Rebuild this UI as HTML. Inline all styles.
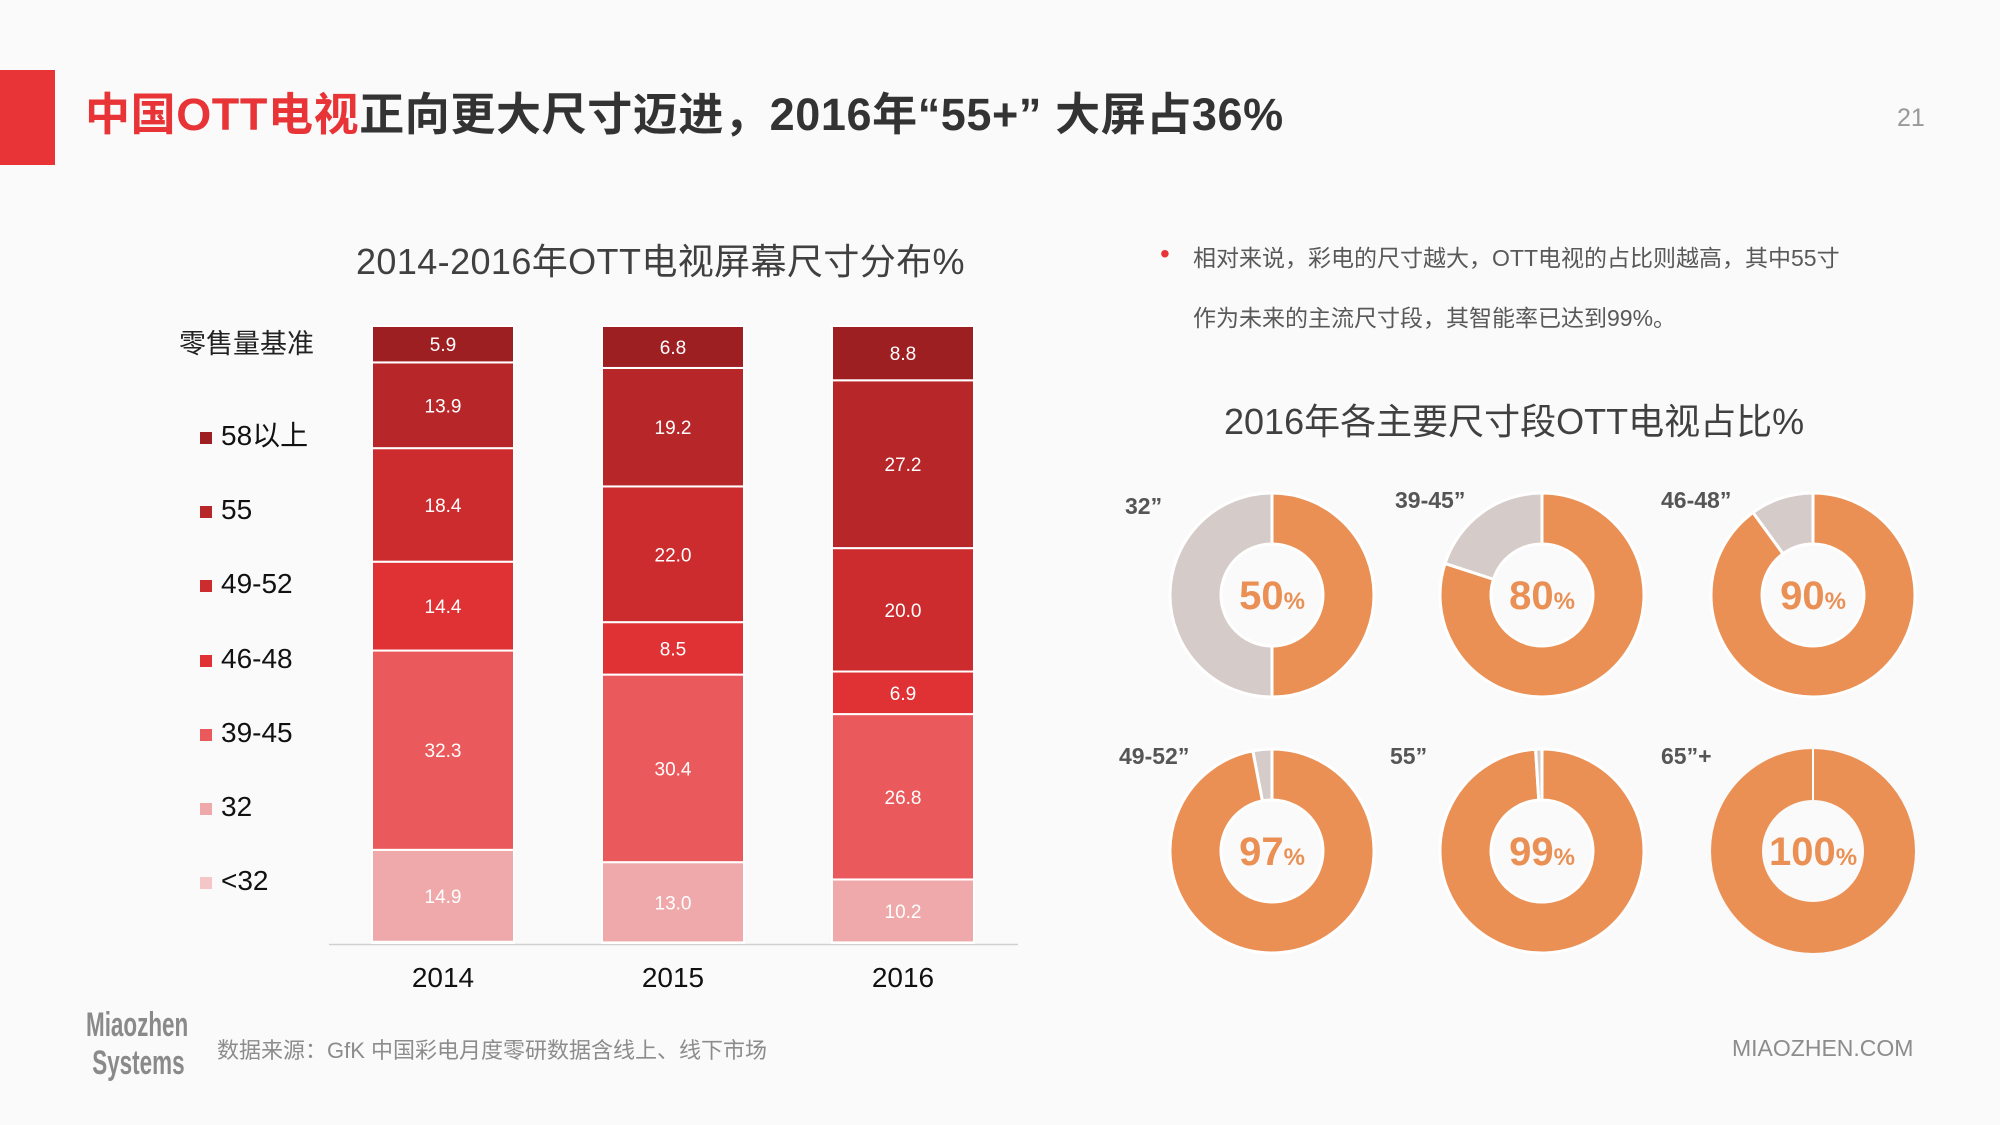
<!DOCTYPE html>
<html><head><meta charset="utf-8">
<style>
html,body{margin:0;padding:0;background:#fafafa;}
#root{position:relative;width:2000px;height:1125px;overflow:hidden;background:#fafafa;font-family:"Liberation Sans","Noto Sans CJK SC",sans-serif;}
.abs{position:absolute;white-space:nowrap;}
</style></head>
<body>
<div id="root">
<div class="abs" style="left:0;top:70px;width:55px;height:95px;background:#e83436;"></div>
<div class="abs" style="left:85px;top:78px;font-size:45px;font-weight:bold;color:#333;letter-spacing:0.6px;"><span style="color:#e83436">中国OTT电视</span>正向更大尺寸迈进，2016年“55+” 大屏占36%</div>
<div class="abs" style="left:1897px;top:104px;font-size:25px;color:#999;">21</div>

<div class="abs" style="left:356px;top:233px;font-size:36px;color:#404040;letter-spacing:0.4px;">2014-2016年OTT电视屏幕尺寸分布%</div>
<div class="abs" style="left:179px;top:322px;font-size:27px;color:#222;">零售量基准</div>

<svg id="bars" class="abs" style="left:0;top:0" width="2000" height="1125"></svg>

<div class="abs" style="left:1160px;top:238px;font-size:28px;color:#e83436;">•</div>
<div class="abs" style="left:1193px;top:228px;font-size:23px;color:#595959;line-height:60px;white-space:normal;width:760px;">相对来说，彩电的尺寸越大，OTT电视的占比则越高，其中55寸<br>作为未来的主流尺寸段，其智能率已达到99%。</div>

<div class="abs" style="left:1224px;top:393px;font-size:36px;color:#404040;">2016年各主要尺寸段OTT电视占比%</div>
<svg id="donuts" class="abs" style="left:0;top:0" width="2000" height="1125"></svg>

<div class="abs" style="left:86px;top:1006px;font-size:34px;line-height:38px;color:#8a8a8a;font-family:'Liberation Sans Narrow','Liberation Sans',sans-serif;transform:scaleX(0.66);transform-origin:left top;font-weight:bold;">Miaozhen<br>&nbsp;Systems</div>
<div class="abs" style="left:217px;top:1033px;font-size:22px;color:#8c8c8c;">数据来源：GfK 中国彩电月度零研数据含线上、线下市场</div>
<div class="abs" style="left:1732px;top:1035px;font-size:23px;color:#8c8c8c;">MIAOZHEN.COM</div>
</div>
<script>
const years = ['2014','2015','2016'];
const seriesNames = ['<32','32','39-45','46-48','49-52','55','58以上'];
const s_lt32 = [0.2, 0.1, 0.1];
const s_32 = [14.9, 13.0, 10.2];
const s_39_45 = [32.3, 30.4, 26.8];
const s_46_48 = [14.4, 8.5, 6.9];
const s_49_52 = [18.4, 22.0, 20.0];
const s_55 = [13.9, 19.2, 27.2];
const s_58 = [5.9, 6.8, 8.8];
const donutLabels = ['32”','39-45”','46-48”','49-52”','55”','65”+'];
const donutValues = [50, 80, 90, 97, 99, 100];

const NS='http://www.w3.org/2000/svg';
function mk(parent,tag,attrs){const e=document.createElementNS(NS,tag);for(const k in attrs)e.setAttribute(k,attrs[k]);parent.appendChild(e);return e;}
const colors=['#f4c6c7','#f0a9aa','#ea5a5c','#e03235','#cc2c2e','#b7272a','#9e1f22'];
const series=[s_lt32,s_32,s_39_45,s_46_48,s_49_52,s_55,s_58];
const svg=document.getElementById('bars');
const baseY=943, plotH=617;
function yScale(v){return baseY - v/100*plotH;}
function xScale(i){return 372 + i*230;}
const barW=142;
const axis=mk(svg,'line',{x1:329,x2:1018,y1:944.5,y2:944.5,stroke:'#d0d0d0','stroke-width':1.5});


years.forEach((yr,i)=>{
  let cum=0;
  series.forEach((s,k)=>{
    const v=s[i];const y0=yScale(cum), y1=yScale(cum+v);
    const r=mk(svg,'rect',{x:xScale(i),y:y1,width:barW,height:Math.max(0,y0-y1),fill:colors[k],stroke:'#fff','stroke-width':2});
    
    
    if(v>=3){
      const t=mk(svg,'text',{x:xScale(i)+barW/2,y:(y0+y1)/2+7,'text-anchor':'middle','font-size':19,fill:'#fff','font-family':'Liberation Sans'});
      t.textContent=v.toFixed(1);
      
      
    }
    cum+=v;
  });
  const t=mk(svg,'text',{x:xScale(i)+barW/2,y:987,'text-anchor':'middle','font-size':28,fill:'#111','font-family':'Liberation Sans'});
  t.textContent=yr;
  
  
});
// legend
const legY=[444,518,592,667,741,815,889];
for(let j=0;j<7;j++){
  const k=6-j;
  const r=mk(svg,'rect',{x:200,y:legY[j]-12,width:12,height:12,fill:colors[k]});
  
  
  const t=mk(svg,'text',{x:221,y:legY[j]+1,'font-size':28,fill:'#111','font-family':'Liberation Sans, Noto Sans CJK SC'});
  t.textContent=seriesNames[k];
  
  
}
// donuts
const dsvg=document.getElementById('donuts');
const cx=[1272,1542,1813], cy=[595,851], R=102, r0=51;
const labPos=[[1125,514],[1395,508],[1661,508],[1119,764],[1390,764],[1661,764]];
function pt(a,rad,x,y){return [x+rad*Math.sin(a), y-rad*Math.cos(a)];}
function arc(x,y,a0,a1){
  const large=(a1-a0)>Math.PI?1:0;
  const p1=pt(a0,R,x,y),p2=pt(a1,R,x,y),p3=pt(a1,r0,x,y),p4=pt(a0,r0,x,y);
  return `M${p1[0]},${p1[1]} A${R},${R} 0 ${large} 1 ${p2[0]},${p2[1]} L${p3[0]},${p3[1]} A${r0},${r0} 0 ${large} 0 ${p4[0]},${p4[1]} Z`;
}
donutValues.forEach((v,i)=>{
  const x=cx[i%3], y=cy[Math.floor(i/3)];
  const a=v/100*2*Math.PI;
  if(v>=100){
    const c=mk(dsvg,'circle',{cx:x,cy:y,r:(R+r0)/2,fill:'none',stroke:'#ea9055','stroke-width':R-r0});
    
    
    const l=mk(dsvg,'line',{x1:x,y1:y-R,x2:x,y2:y-r0,stroke:'#fff','stroke-width':2});
  } else {
    const p=mk(dsvg,'path',{d:arc(x,y,0,a),fill:'#ea9055',stroke:'#fff','stroke-width':3});
    
    
    const q=mk(dsvg,'path',{d:arc(x,y,a,2*Math.PI-0.0001),fill:'#d5cbc8',stroke:'#fff','stroke-width':3});
    
    
  }
  const t=mk(dsvg,'text',{x:x,y:y+14,'text-anchor':'middle','font-size':40,'font-weight':'bold',fill:'#ea9055','font-family':'Liberation Sans'});
  t.textContent=v;
  const ts=mk(t,'tspan',{'font-size':24});ts.textContent='%';
  
  
  const lb=mk(dsvg,'text',{x:labPos[i][0],y:labPos[i][1],'font-size':23,fill:'#555','font-weight':'bold','font-family':'Liberation Sans'});
  lb.textContent=donutLabels[i];
  
  
});
</script>
</body></html>
